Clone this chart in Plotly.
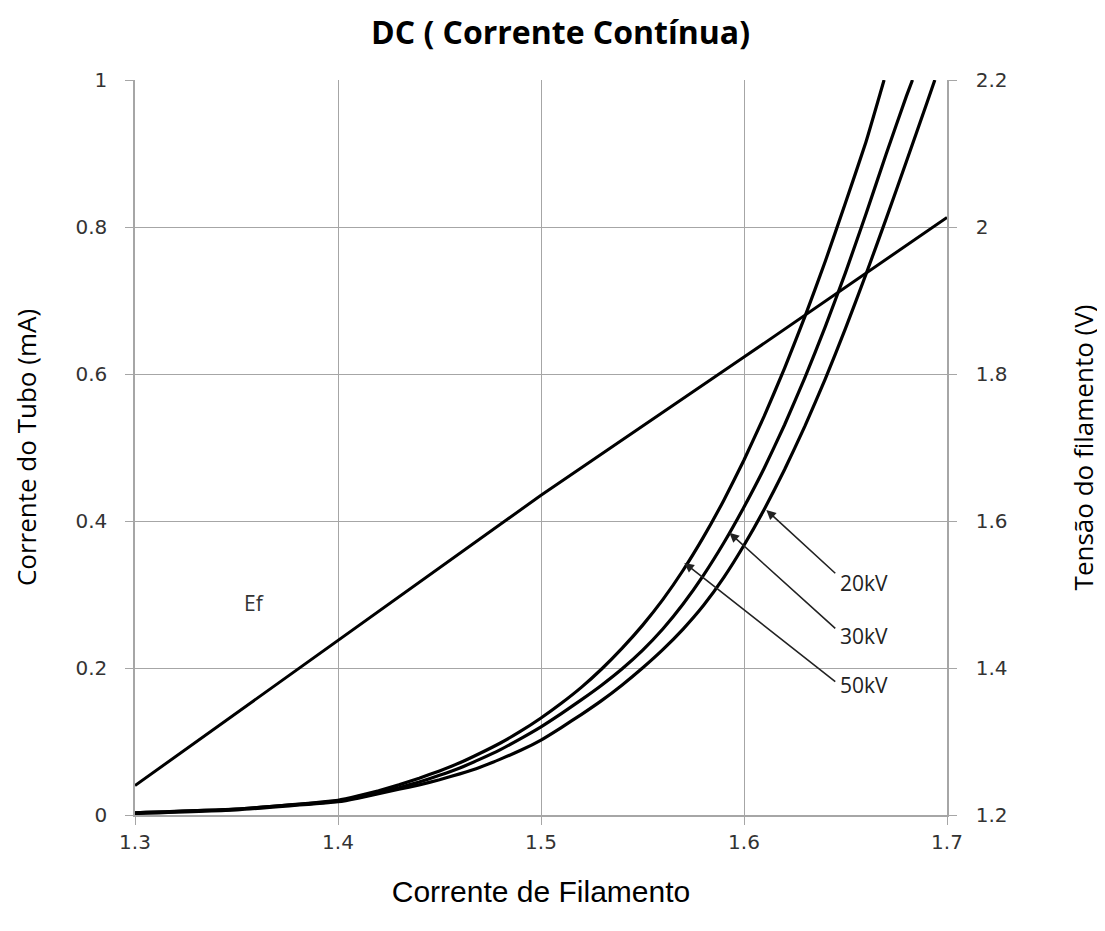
import plotly.graph_objects as go

# ---- data ----
x_50kv = [1.30, 1.35, 1.40, 1.41, 1.42, 1.43, 1.44, 1.45, 1.46, 1.47, 1.48, 1.49,
          1.50, 1.51, 1.52, 1.53, 1.54, 1.55, 1.56, 1.57, 1.58, 1.59,
          1.60, 1.61, 1.62, 1.63, 1.64, 1.65, 1.66, 1.669]
y_50kv = [0.003, 0.008, 0.020, 0.026, 0.033, 0.041, 0.050, 0.060, 0.071, 0.084, 0.098, 0.114,
          0.132, 0.152, 0.174, 0.199, 0.227, 0.258, 0.293, 0.333, 0.378, 0.428,
          0.483, 0.543, 0.608, 0.678, 0.753, 0.833, 0.915, 1.000]

x_30kv = [1.30, 1.35, 1.40, 1.41, 1.42, 1.43, 1.44, 1.45, 1.46, 1.47, 1.48, 1.49,
          1.50, 1.51, 1.52, 1.53, 1.54, 1.55, 1.56, 1.57, 1.58, 1.59,
          1.60, 1.61, 1.62, 1.63, 1.64, 1.65, 1.66, 1.67, 1.68, 1.683]
y_30kv = [0.003, 0.008, 0.019, 0.024, 0.030, 0.037, 0.045, 0.054, 0.064, 0.076, 0.089, 0.104,
          0.120, 0.138, 0.157, 0.177, 0.199, 0.224, 0.253, 0.287, 0.326, 0.370,
          0.419, 0.472, 0.531, 0.595, 0.664, 0.738, 0.817, 0.899, 0.978, 1.000]

x_20kv = [1.30, 1.35, 1.40, 1.41, 1.42, 1.43, 1.44, 1.45, 1.46, 1.47, 1.48, 1.49,
          1.50, 1.51, 1.52, 1.53, 1.54, 1.55, 1.56, 1.57, 1.58, 1.59,
          1.60, 1.61, 1.62, 1.63, 1.64, 1.65, 1.66, 1.67, 1.68, 1.69, 1.694]
y_20kv = [0.002, 0.007, 0.018, 0.023, 0.029, 0.035, 0.041, 0.048, 0.056, 0.065, 0.076, 0.088,
          0.102, 0.119, 0.137, 0.156, 0.177, 0.200, 0.225, 0.253, 0.285, 0.323,
          0.367, 0.416, 0.470, 0.529, 0.593, 0.662, 0.735, 0.811, 0.889, 0.968, 1.000]

x_ef = [1.30, 1.40, 1.50, 1.60, 1.70]
y_ef = [1.240, 1.438, 1.635, 1.823, 2.013]

x_ticks = [1.3, 1.4, 1.5, 1.6, 1.7]
y_ticks = [0, 0.2, 0.4, 0.6, 0.8, 1]
y2_ticks = [1.2, 1.4, 1.6, 1.8, 2.0, 2.2]
y2_tick_text = ["1.2", "1.4", "1.6", "1.8", "2", "2.2"]

kv_labels = ["20kV", "30kV", "50kV"]
kv_label_x = [1.6465, 1.6465, 1.6465]
kv_label_y = [0.316, 0.244, 0.177]
kv_tip_x = [1.611, 1.5928, 1.5706]
kv_tip_y = [0.415, 0.384, 0.343]
kv_tail_x = [1.6457, 1.6457, 1.6457]
kv_tail_y = [0.327, 0.252, 0.180]

fig = go.Figure()
for xs, ys, name in [(x_50kv, y_50kv, "50kV"), (x_30kv, y_30kv, "30kV"), (x_20kv, y_20kv, "20kV")]:
    fig.add_trace(go.Scatter(x=xs, y=ys, mode="lines", name=name,
                             line=dict(color="black", width=3.2, shape="spline", smoothing=0.4),
                             showlegend=False))
fig.add_trace(go.Scatter(x=x_ef, y=y_ef, mode="lines", name="Ef", yaxis="y2",
                         line=dict(color="black", width=3), showlegend=False))

tick_font = dict(family="DejaVu Sans", size=20, color="#333333")
grid_col = "#a6a6a6"

annotations = [
    dict(x=1.359, y=0.288, xref="x", yref="y", text="Ef", showarrow=False,
         font=dict(family="Open Sans", size=21, color="#333333")),
]
for lab, lx, ly, tx, ty, sx, sy in zip(kv_labels, kv_label_x, kv_label_y, kv_tip_x, kv_tip_y, kv_tail_x, kv_tail_y):
    annotations.append(dict(x=lx, y=ly, xref="x", yref="y", text=lab, showarrow=False,
                            xanchor="left", font=dict(family="Open Sans", size=21, color="#222222")))
    annotations.append(dict(x=tx, y=ty, xref="x", yref="y", ax=sx, ay=sy, axref="x", ayref="y",
                            text="", showarrow=True, arrowhead=2, arrowsize=1.2, arrowwidth=1.6,
                            arrowcolor="#222222"))

fig.update_layout(
    width=1105, height=931,
    margin=dict(l=127, r=166, t=72, b=124),
    paper_bgcolor="white", plot_bgcolor="white",
    title=dict(text="<b>DC ( Corrente Contínua)</b>", x=0.5, xanchor="center",
               y=0.973, yanchor="middle",
               font=dict(family="Open Sans", size=32, color="black")),
    xaxis=dict(range=[1.3, 1.7], tickvals=x_ticks, showgrid=True, gridcolor=grid_col, gridwidth=1.2,
               ticks="outside", ticklen=8, tickcolor=grid_col, tickfont=tick_font,
               showline=True, linecolor=grid_col, linewidth=1.5, zeroline=False,
               title=dict(text="Corrente de Filamento", standoff=28,
                          font=dict(family="Liberation Sans", size=30, color="black"))),
    yaxis=dict(range=[0, 1], tickvals=y_ticks, showgrid=True, gridcolor=grid_col, gridwidth=1.2,
               ticks="outside", ticklen=8, tickcolor=grid_col, tickfont=tick_font,
               ticklabelstandoff=14,
               showline=True, linecolor=grid_col, linewidth=1.5, zeroline=False,
               title=dict(text="Corrente do Tubo (mA)", standoff=34,
                          font=dict(family="Open Sans", size=26, color="black"))),
    yaxis2=dict(range=[1.2, 2.2], tickvals=y2_ticks, ticktext=y2_tick_text, overlaying="y",
                side="right", showgrid=False, ticks="outside", ticklen=8, tickcolor=grid_col,
                tickfont=tick_font, ticklabelstandoff=15, showline=True, linecolor=grid_col,
                linewidth=1.5, zeroline=False,
                title=dict(text="Tensão do filamento (V)", standoff=68,
                           font=dict(family="Open Sans", size=26, color="black"))),
    annotations=annotations,
)

fig.write_html("out.html")
